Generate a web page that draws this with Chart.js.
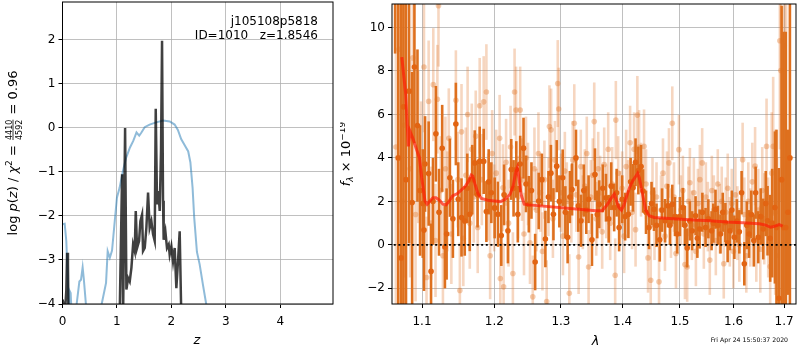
<!DOCTYPE html>
<html>
<head>
<meta charset="utf-8">
<script src="https://cdn.jsdelivr.net/npm/chart.js@4.4.1/dist/chart.umd.min.js"></script>
<style>
  body { margin: 0; background: #fff; width: 800px; height: 350px; overflow: hidden; position: relative; }
  #pz { position: absolute; left: 0; top: 0; }
  #sp { position: absolute; left: 340px; top: 0; }
</style>
</head>
<body>
<canvas id="pz" width="340" height="350"></canvas>
<canvas id="sp" width="460" height="350"></canvas>
<script>
// p(z) panel
const pzTicksX = [0, 1, 2, 3, 4];
const pzTicksY = [-4, -3, -2, -1, 0, 1, 2];
const priorZ = [0, 0.04, 0.07, 0.10, 0.12, 0.13, 0.15, 0.17, 0.26, 0.31, 0.34, 0.37, 0.39, 0.43, 0.45,
  0.69, 0.72, 0.80, 0.83, 0.87, 0.91, 0.96, 1.0, 1.05, 1.11, 1.17, 1.24, 1.30, 1.36, 1.41, 1.45, 1.51,
  1.60, 1.72, 1.85, 1.97, 2.06, 2.12, 2.18, 2.24, 2.31, 2.35, 2.39, 2.42, 2.47, 2.52, 2.58, 2.64, 2.70];
const priorLogP = [-2.19, -2.18, -2.57, -3.56, -4.2, -3.7, -3.75, -4.3, -4.0, -3.49, -3.45, -3.17, -3.41, -4.0, -4.3,
  -4.3, -4.0, -3.52, -2.8, -2.95, -2.79, -2.12, -1.59, -1.36, -0.98, -0.68, -0.45, -0.30, -0.11, -0.18, -0.11, 0.01,
  0.07, 0.12, 0.16, 0.14, 0.07, -0.05, -0.26, -0.39, -0.54, -0.79, -1.36, -2.04, -2.82, -3.1, -3.56, -4.0, -4.5];
const fitZ = [0, 0.02, 0.04, 0.07, 0.085, 0.1, 0.11, 1.05, 1.095, 1.113, 1.15, 1.174, 1.205, 1.235, 1.266, 1.297,
  1.327, 1.346, 1.37, 1.407, 1.431, 1.462, 1.48, 1.511, 1.541, 1.572, 1.602, 1.633, 1.664, 1.694, 1.713, 1.737,
  1.761, 1.786, 1.81, 1.829, 1.847, 1.859, 1.89, 1.92, 1.951, 1.969, 2.0, 2.031, 2.061, 2.092, 2.122, 2.153, 2.183];
const fitLogP = [-3.9, -4.0, -4.3, -3.7, -2.84, -3.1, -4.3, -4.3, -1.06, -4.3, -0.01, -3.67, -3.41, -3.49, -3.18, -2.65,
  -2.8, -1.89, -2.73, -2.57, -2.12, -1.97, -2.8, -2.73, -2.27, -1.47, -2.27, -2.12, -2.42, -2.57, 0.43, -1.74,
  -1.44, -1.89, -0.52, 1.97, -1.66, -2.54, -2.35, -2.73, -2.65, -2.88, -2.69, -3.03, -2.73, -3.64, -3.03, -2.35, -4.3];

// spectrum panel
const specTicksX = [1.1, 1.2, 1.3, 1.4, 1.5, 1.6, 1.7];
const specTicksY = [-2, 0, 2, 4, 6, 8, 10];
const binWave = [1.065, 1.069, 1.0727, 1.0757, 1.079, 1.083, 1.087, 1.090, 1.094, 1.0974, 1.101, 1.1026, 1.104,
  1.1088, 1.112, 1.1146, 1.1185, 1.1227, 1.127, 1.1307, 1.133, 1.1375, 1.1416, 1.1457, 1.149, 1.1535, 1.158,
  1.1615, 1.165, 1.1685, 1.172, 1.176, 1.179, 1.1847, 1.1885, 1.1918, 1.1956, 1.2004, 1.2052, 1.210, 1.2141,
  1.2197, 1.2246, 1.228, 1.232, 1.2343, 1.2378, 1.2428, 1.2465, 1.2507, 1.2547, 1.2603, 1.2657, 1.2705, 1.2759,
  1.2806, 1.2844, 1.2883, 1.2934, 1.2975, 1.3027, 1.3069, 1.3105, 1.314, 1.3175, 1.3237, 1.3274, 1.3317, 1.3362,
  1.3402, 1.3439, 1.3494, 1.3543, 1.358, 1.3612, 1.367, 1.3723, 1.3768, 1.381, 1.3859, 1.390, 1.3942, 1.3993,
  1.4043, 1.4098, 1.4136, 1.4178, 1.422, 1.4268, 1.4315, 1.4349, 1.44, 1.4452, 1.4496, 1.4539, 1.4583, 1.464,
  1.468, 1.4733, 1.4785, 1.482, 1.4862, 1.491, 1.4951, 1.4999, 1.5053, 1.509, 1.5131, 1.518, 1.5222, 1.5284,
  1.5317, 1.5358, 1.541, 1.5469, 1.5521, 1.5581, 1.5614, 1.5655, 1.570, 1.5749, 1.5792, 1.5842, 1.5885, 1.5931,
  1.5966, 1.6014, 1.6062, 1.611, 1.6154, 1.6207, 1.6255, 1.6299, 1.6344, 1.6393, 1.6429, 1.6481, 1.653, 1.658,
  1.663, 1.6666, 1.6719, 1.676, 1.6814, 1.6846, 1.6894, 1.695, 1.699, 1.7035, 1.708, 1.712];
const binFlux = [13.0, 4.0, -0.6, 6.35, 3.0, 7.07, 1.95, 8.18, 5.49, 2.5, 1.9, 0.68, 3.72,
  3.28, -1.22, 2.0, 5.11, 1.5, 4.44, -0.1, 0.5, 3.09, 1.2, 5.56, 2.1, 1.26, 1.1,
  2.6, 1.41, 3.0, 3.77, 2.3, 3.84, 3.84, 1.53, 2.9, 2.4, 1.7, 1.41, 0.43, 2.3,
  0.65, 3.47, 2.6, 3.47, 1.41, 3.72, 4.45, 2.8, 1.87, 2.5, -0.79, 2.02, 3.0, 0.27,
  2.2, 3.3, 1.41, 3.62, 2.0, 3.09, 1.5, 0.35, 2.2, 2.55, 4.0, 1.8, 1.11, 2.5,
  1.6, 2.1, 0.23, 3.24, 1.4, 1.87, 2.6, 2.17, 1.2, 2.7, 1.72, 2.4, 0.8, 2.1,
  1.3, 1.41, 2.9, 2.63, 3.8, 3.42, 3.6, 2.48, 1.5, 0.8, 1.9, 1.64, 0.9, 0.23,
  1.6, 1.11, 1.8, 0.9, 1.87, 1.3, 0.5, 1.3, 1.72, 0.9, -0.14, 1.1, 0.65, 1.34,
  0.3, 0.73, 1.5, 0.8, 1.2, 0.65, 1.0, 1.64, 0.9, 0.5, 1.5, 1.03, 0.1, 0.65,
  1.6, 0.35, 1.1, 0.6, 2.4, -0.87, 0.9, 0.5, 1.4, 0.2, 2.4, 0.35, 1.3, 0.73,
  1.9, 1.11, 0.3, 1.0, 1.72, 0.8, -2.46, 3.0, 0.8, 0.8, 1.5, 4.0];
const binErr = [4.2, 12, 14, 12, 9, 7, 6, 3.5, 3.5, 3, 2.5, 2.8, 2.2,
  2.4, 2.2, 2.0, 2.2, 2.0, 2.0, 1.9, 2.1, 1.8, 1.8, 1.9, 1.7, 1.8, 1.6,
  1.6, 1.7, 1.6, 1.5, 1.5, 1.6, 1.5, 1.4, 1.5, 1.4, 1.4, 1.5, 1.4, 1.4,
  1.5, 1.4, 1.3, 1.3, 1.3, 1.3, 1.4, 1.3, 1.3, 1.3, 1.3, 1.3, 1.2, 1.3,
  1.2, 1.3, 1.2, 1.2, 1.2, 1.3, 1.2, 1.2, 1.2, 1.2, 1.3, 1.2, 1.2, 1.2,
  1.1, 1.1, 1.2, 1.2, 1.1, 1.1, 1.1, 1.1, 1.1, 1.1, 1.1, 1.1, 1.1, 1.1,
  1.1, 1.1, 1.1, 1.1, 1.1, 1.1, 1.0, 1.0, 1.0, 1.0, 1.0, 1.0, 1.0, 1.0,
  1.0, 1.0, 1.0, 0.9, 0.9, 0.9, 0.9, 0.9, 0.9, 0.9, 0.9, 0.9, 0.9, 0.9,
  0.9, 0.9, 0.9, 0.9, 0.9, 0.9, 0.9, 0.9, 0.9, 0.9, 0.9, 0.9, 0.9, 0.9,
  0.9, 1.0, 1.0, 1.0, 1.0, 1.0, 1.1, 1.1, 1.1, 1.2, 1.2, 1.2, 1.3, 1.4,
  1.5, 1.6, 2.0, 2.5, 3.5, 4.5, 6, 8, 9, 9, 3.8, 10];
const rawWave = [1.066, 1.070, 1.074, 1.077, 1.0844, 1.0879, 1.0915, 1.095, 1.0987, 1.1026, 1.106, 1.1088, 1.112,
  1.115, 1.118, 1.1205, 1.122, 1.125, 1.128, 1.1314, 1.134, 1.136, 1.1395, 1.1457, 1.1484, 1.1512, 1.1535,
  1.156, 1.1595, 1.162, 1.165, 1.1678, 1.1706, 1.1734, 1.1762, 1.179, 1.182, 1.1847, 1.1885, 1.191, 1.1939,
  1.1968, 1.1997, 1.2026, 1.2076, 1.2086, 1.2124, 1.2134, 1.217, 1.2206, 1.2236, 1.227, 1.2295, 1.2317, 1.2346,
  1.2378, 1.2405, 1.2435, 1.2465, 1.2495, 1.2525, 1.2567, 1.2592, 1.2622, 1.2653, 1.2683, 1.2714, 1.2744, 1.2779,
  1.2806, 1.2821, 1.2847, 1.2875, 1.2906, 1.295, 1.2965, 1.300, 1.3031, 1.3061, 1.3092, 1.3131, 1.3163, 1.3186,
  1.321, 1.3242, 1.3279, 1.3314, 1.3346, 1.3378, 1.341, 1.3439, 1.3475, 1.3507, 1.3531, 1.3563, 1.3596, 1.3628,
  1.3661, 1.3694, 1.3727, 1.376, 1.3793, 1.3826, 1.3876, 1.3887, 1.3926, 1.3959, 1.3993, 1.4026, 1.406, 1.4093,
  1.4127, 1.4161, 1.4195, 1.422, 1.4251, 1.428, 1.4314, 1.4366, 1.44, 1.4435, 1.4482, 1.4513, 1.4548, 1.4583,
  1.4627, 1.4662, 1.4697, 1.4732, 1.4768, 1.4803, 1.4839, 1.4862, 1.4892, 1.4928, 1.4981, 1.5017, 1.5053, 1.509,
  1.5131, 1.5153, 1.518, 1.5217, 1.5253, 1.529, 1.5327, 1.5363, 1.5406, 1.5437, 1.5474, 1.5511, 1.5548, 1.5586,
  1.5623, 1.5661, 1.5698, 1.5736, 1.5773, 1.5811, 1.5849, 1.5887, 1.5926, 1.5964, 1.5995, 1.6034, 1.6072, 1.611,
  1.6174, 1.6207, 1.6246, 1.6285, 1.6324, 1.6363, 1.6418, 1.6442, 1.6481, 1.6521, 1.656, 1.66, 1.6646, 1.6679,
  1.6719, 1.675, 1.6779, 1.682, 1.686, 1.6914, 1.6934, 1.696, 1.7005, 1.7043];
const rawFlux = [4.5, 9.0, 2.0, 5.5, 3.5, 8.6, 1.4, 4.5, 3.4, 8.18, -1.5, 6.6, 1.0,
  7.37, 0.2, 6.7, 11.0, 2.5, -0.5, 3.5, 2.0, 4.9, 0.5, 6.65, 3.0, -2.1, 5.2,
  0.3, 3.2, 6.0, 1.0, 4.4, 2.2, 5.0, 0.8, 6.4, 3.0, 6.58, 7.03, 2.2, -0.5,
  4.2, 1.7, 3.3, 4.9, -1.55, 2.63, -1.93, 3.8, 1.0, 4.5, -1.32, 7.03, 6.2, 2.2,
  6.2, 3.0, 0.5, 4.0, 2.8, 0.1, -2.39, 3.5, 1.6, 4.2, 2.4, -0.3, 3.0, -2.61,
  2.2, 5.44, 5.29, 1.2, 3.9, 7.42, 6.25, 2.4, 0.4, 3.4, 2.0, -2.23, 1.9, 3.9,
  5.59, 2.3, -0.56, 3.6, 1.5, 2.7, 4.2, -1.02, 2.2, 3.2, 5.67, 1.2, 3.5, 2.4,
  0.6, 3.7, 2.0, 4.4, 1.0, 2.8, -1.4, 5.74, 3.3, 1.7, 2.6, 0.4, 3.6, 2.2,
  4.7, 1.5, 4.4, 0.7, 5.97, 4.5, 3.0, 4.53, 2.8, -0.6, -1.63, 2.4, 0.9, 2.2,
  -1.7, 1.6, 3.3, 0.4, 2.7, 3.77, 1.0, 5.59, 2.2, -0.4, 4.38, 1.6, 2.5, -0.9,
  -1.02, 2.0, 2.86, 0.9, 2.4, -0.3, 1.9, 3.0, 3.77, 0.5, 2.2, 1.3, -0.7, 2.5,
  1.6, 0.2, 2.8, 1.2, 2.0, -0.87, 1.5, 2.6, 0.6, 1.9, -0.3, 2.3, 1.0, 0.0,
  3.92, 1.4, -0.5, 2.0, 0.8, 2.9, 3.62, 0.2, 1.6, -0.2, 2.5, 1.2, 4.53, 0.8,
  -1.0, 3.3, 4.53, 1.5, -0.5, 9.39, 8.02, 3.0, 9.16, 1.5];
const rawErr = [10, 8, 9, 7, 5, 4, 4, 3.5, 3.2, 3.0, 2.8, 2.8, 2.6,
  2.6, 2.6, 2.5, 2.8, 2.5, 2.4, 2.4, 2.3, 2.3, 2.3, 2.3, 2.2, 2.2, 2.2,
  2.2, 2.2, 2.2, 2.1, 2.1, 2.1, 2.1, 2.1, 2.2, 2.1, 2.1, 2.2, 2.0, 2.0,
  2.0, 2.0, 2.0, 2.0, 2.0, 2.0, 2.0, 2.0, 2.0, 1.9, 1.9, 2.0, 2.0, 1.9,
  2.0, 1.9, 1.9, 1.9, 1.9, 1.9, 1.9, 1.9, 1.9, 1.9, 1.8, 1.8, 1.8, 1.9,
  1.8, 1.9, 1.9, 1.8, 1.8, 2.0, 1.9, 1.8, 1.8, 1.8, 1.8, 1.8, 1.8, 1.8,
  1.8, 1.7, 1.7, 1.7, 1.7, 1.7, 1.7, 1.7, 1.7, 1.7, 1.8, 1.7, 1.7, 1.7,
  1.7, 1.7, 1.7, 1.7, 1.7, 1.7, 1.7, 1.8, 1.7, 1.7, 1.7, 1.7, 1.7, 1.7,
  1.7, 1.7, 1.7, 1.7, 1.8, 1.7, 1.7, 1.7, 1.6, 1.6, 1.6, 1.6, 1.6, 1.6,
  1.6, 1.6, 1.6, 1.6, 1.6, 1.6, 1.6, 1.7, 1.6, 1.6, 1.6, 1.6, 1.6, 1.6,
  1.6, 1.6, 1.6, 1.6, 1.6, 1.6, 1.6, 1.6, 1.6, 1.6, 1.6, 1.6, 1.6, 1.6,
  1.6, 1.6, 1.6, 1.6, 1.6, 1.6, 1.6, 1.6, 1.6, 1.6, 1.7, 1.7, 1.7, 1.7,
  1.7, 1.7, 1.7, 1.8, 1.8, 1.8, 1.8, 1.9, 1.9, 2.0, 2.0, 2.1, 2.2, 2.3,
  2.5, 2.8, 3.2, 3.8, 4.5, 5, 6, 8, 8, 10];
const modelWave = [1.0736, 1.0787, 1.0806, 1.0821, 1.0843, 1.0878, 1.0921, 1.0966, 1.0996, 1.1039, 1.1067, 1.1105,
  1.1146, 1.1186, 1.1235, 1.128, 1.1324, 1.1368, 1.1411, 1.1478, 1.1545, 1.159, 1.1634, 1.1671, 1.1692, 1.1724,
  1.1769, 1.1814, 1.1905, 1.1997, 1.2089, 1.2158, 1.2228, 1.2274, 1.2311, 1.2335, 1.2359, 1.2391, 1.2438, 1.2509,
  1.3557, 1.366, 1.3737, 1.3816, 1.386, 1.3895, 1.3935, 1.398, 1.4022, 1.406, 1.4117, 1.4171, 1.4227, 1.4255,
  1.4283, 1.434, 1.4396, 1.4454, 1.4541, 1.495, 1.525, 1.555, 1.586, 1.618, 1.650, 1.663, 1.673, 1.680, 1.690, 1.697];
const modelFlux = [8.64, 6.9, 5.52, 4.53, 5.22, 4.91, 4.46, 4.0, 3.09, 2.02, 1.87, 2.02,
  2.17, 2.17, 2.05, 1.87, 1.84, 2.02, 2.25, 2.36, 2.56, 2.71, 2.94, 3.21, 3.16, 2.79,
  2.33, 2.13, 2.05, 2.02, 1.99, 2.10, 2.33, 2.71, 3.32, 3.54, 3.09, 2.33, 1.87, 1.84,
  1.57, 1.57, 1.82, 2.17, 2.33, 2.05, 1.73, 1.6, 1.82, 2.17, 2.63, 2.94, 3.17, 3.29,
  3.09, 2.33, 1.6, 1.34, 1.26, 1.19, 1.14, 1.11, 1.05, 1.02, 0.97, 0.91, 0.81, 0.85, 0.93, 0.86];

const FONT = 'DejaVu Sans';
Chart.defaults.font.family = FONT;
Chart.defaults.font.size = 12;
Chart.defaults.color = '#000';

const pts = (xs, ys) => xs.map((v, i) => ({ x: v, y: ys[i] }));
const setTicks = vals => scale => { scale.ticks = vals.map(v => ({ value: v })); };
// fixed axis box, no extra room for overhanging tick labels
const fitX = h => s => { s.height = h; s.paddingLeft = 0; s.paddingRight = 0; };
const fitY = w => s => { s.width = w; s.paddingTop = 0; s.paddingBottom = 0; };
const minus = v => String(v).replace('-', '\u2212');

function axis(opts, pad, fmt) {
  return Object.assign({
    grid: { color: '#b0b0b0', lineWidth: 0.8, tickColor: '#000', tickLength: 4, tickWidth: 1 },
    border: { display: false },
    ticks: { padding: pad, font: { size: 12 }, color: '#000', maxRotation: 0, callback: fmt || minus }
  }, opts);
}

const framePlugin = {
  id: 'frame',
  afterDraw(chart) {
    const { ctx, chartArea: a } = chart;
    ctx.save();
    ctx.strokeStyle = '#000';
    ctx.lineWidth = 1;
    ctx.strokeRect(a.left, a.top, a.right - a.left, a.bottom - a.top);
    ctx.restore();
  }
};

function partWidth(ctx, p) {
  ctx.font = p.f;
  if (p.num) return Math.max(ctx.measureText(p.num).width, ctx.measureText(p.den).width) + 2;
  return ctx.measureText(p.t).width;
}

// mixed-font text (mathtext-like), optionally rotated
function richText(ctx, parts, x, y, rotated) {
  ctx.save();
  ctx.translate(x, y);
  if (rotated) ctx.rotate(-Math.PI / 2);
  const ws = parts.map(p => partWidth(ctx, p));
  let cur = -ws.reduce((a, b) => a + b, 0) / 2;
  ctx.fillStyle = '#000';
  ctx.strokeStyle = '#000';
  ctx.textBaseline = 'alphabetic';
  parts.forEach((p, i) => {
    ctx.font = p.f;
    if (p.num) {
      ctx.textAlign = 'center';
      ctx.fillText(p.num, cur + ws[i] / 2, -5.5);
      ctx.fillText(p.den, cur + ws[i] / 2, 4.5);
      ctx.lineWidth = 0.8;
      ctx.beginPath();
      ctx.moveTo(cur + 1, -4);
      ctx.lineTo(cur + ws[i] - 1, -4);
      ctx.stroke();
    } else {
      ctx.textAlign = 'left';
      ctx.fillText(p.t, cur, p.dy || 0);
    }
    cur += ws[i];
  });
  ctx.restore();
}

const rm = '13px ' + FONT, it = 'italic 13px ' + FONT, small = '8px ' + FONT;

const pzLabels = {
  id: 'pzLabels',
  afterDraw(chart) {
    const ctx = chart.ctx;
    richText(ctx, [
      { t: 'log ', f: rm }, { t: 'p', f: it }, { t: '(', f: rm }, { t: 'z', f: it }, { t: ')', f: rm },
      { t: ' / ', f: rm }, { t: 'χ', f: it }, { t: '2', f: '9px ' + FONT, dy: -5 }, { t: ' = ', f: rm },
      { num: '4410', den: '4592', f: small }, { t: ' = 0.96', f: rm }
    ], 17, 153, true);
    richText(ctx, [{ t: 'z', f: it }], 197, 344, false);
    ctx.save();
    ctx.font = '12px ' + FONT;
    ctx.textAlign = 'right';
    ctx.fillStyle = '#000';
    ctx.fillText('j105108p5818', 318, 24.5);
    ctx.fillText('ID=1010   z=1.8546', 318, 39);
    ctx.restore();
  }
};

new Chart(document.getElementById('pz'), {
  type: 'line',
  data: {
    datasets: [
      { data: pts(fitZ, fitLogP), borderColor: 'rgba(0,0,0,0.75)', borderWidth: 2.5, pointRadius: 0, tension: 0 },
      { data: pts(priorZ, priorLogP), borderColor: 'rgba(31,119,180,0.5)', borderWidth: 2, pointRadius: 0, tension: 0 }
    ]
  },
  options: {
    responsive: false,
    animation: false,
    layout: { padding: { top: 2, right: 7, left: 0, bottom: 0 } },
    plugins: { legend: { display: false }, tooltip: { enabled: false } },
    scales: {
      x: axis({ type: 'linear', min: 0, max: 4.97, afterBuildTicks: setTicks(pzTicksX), afterFit: fitX(46) }, 7),
      y: axis({ type: 'linear', min: -4, max: 2.85, afterBuildTicks: setTicks(pzTicksY), afterFit: fitY(62.5) }, 3)
    }
  },
  plugins: [framePlugin, pzLabels]
});

const errPlugin = {
  id: 'errbars',
  beforeDatasetDraw(chart, args) {
    const ds = chart.data.datasets[args.index];
    if (!ds.errs) return;
    const { ctx, chartArea: a, scales: { x, y } } = chart;
    ctx.save();
    ctx.beginPath();
    ctx.rect(a.left, a.top, a.right - a.left, a.bottom - a.top);
    ctx.clip();
    ctx.strokeStyle = ds.barColor;
    ctx.lineWidth = 2.6;
    ds.data.forEach((p, i) => {
      const px = x.getPixelForValue(p.x);
      ctx.beginPath();
      ctx.moveTo(px, y.getPixelForValue(p.y - ds.errs[i]));
      ctx.lineTo(px, y.getPixelForValue(p.y + ds.errs[i]));
      ctx.stroke();
    });
    ctx.restore();
  }
};

const spLabels = {
  id: 'spLabels',
  afterDraw(chart) {
    const ctx = chart.ctx;
    richText(ctx, [
      { t: 'f', f: it }, { t: 'λ', f: 'italic 9px ' + FONT, dy: 3 }, { t: ' × 10', f: rm },
      { t: '−19', f: '9px ' + FONT, dy: -5.5 }
    ], 10, 154, true);
    richText(ctx, [{ t: 'λ', f: it }], 255.5, 345, false);
    ctx.save();
    ctx.font = '6.2px ' + FONT;
    ctx.textAlign = 'right';
    ctx.fillStyle = '#000';
    ctx.fillText('Fri Apr 24 15:50:37 2020', 448, 342);
    ctx.restore();
  }
};

new Chart(document.getElementById('sp'), {
  type: 'line',
  data: {
    datasets: [
      { data: [{ x: 1.04, y: 0 }, { x: 1.75, y: 0 }], borderColor: '#000', borderWidth: 1.6,
        borderDash: [2, 2.6], pointRadius: 0 },
      { data: pts(modelWave, modelFlux), borderColor: 'rgba(255,25,5,0.68)', borderWidth: 3,
        pointRadius: 0, tension: 0 },
      { data: pts(binWave, binFlux), errs: binErr, barColor: 'rgb(222,112,30)', showLine: false,
        pointRadius: 2.8, pointBackgroundColor: 'rgb(226,100,18)', pointBorderWidth: 0 },
      { data: pts(rawWave, rawFlux), errs: rawErr, barColor: 'rgba(226,120,45,0.3)', showLine: false,
        pointRadius: 2.8, pointBackgroundColor: 'rgba(226,120,45,0.38)', pointBorderWidth: 0 }
    ]
  },
  options: {
    responsive: false,
    animation: false,
    layout: { padding: { top: 2, right: 1, left: 0, bottom: 0 } },
    plugins: { legend: { display: false }, tooltip: { enabled: false } },
    scales: {
      x: axis({ type: 'logarithmic', min: 1.061, max: 1.7246, afterBuildTicks: setTicks(specTicksX),
        afterFit: fitX(46) }, 7, v => v.toFixed(1)),
      y: axis({ type: 'linear', min: -2.72, max: 11.08, afterBuildTicks: setTicks(specTicksY),
        afterFit: fitY(52) }, 3)
    }
  },
  plugins: [errPlugin, framePlugin, spLabels]
});
</script>
</body>
</html>
